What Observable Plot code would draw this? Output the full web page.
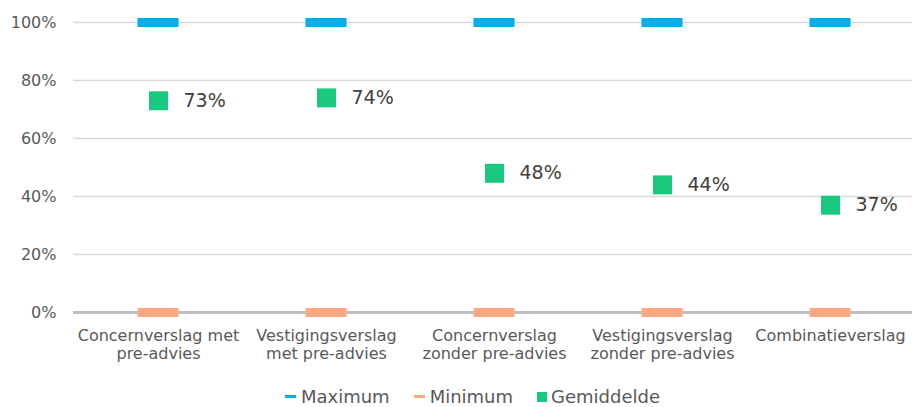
<!DOCTYPE html>
<html>
<head>
<meta charset="utf-8">
<script src="https://cdn.jsdelivr.net/npm/d3@7"></script>
<script src="https://cdn.jsdelivr.net/npm/@observablehq/plot@0.6"></script>
<style>
  html, body { margin: 0; padding: 0; background: #fff; }
  body { width: 912px; height: 407px; overflow: hidden; font-family: "DejaVu Sans", Verdana, sans-serif; }
  #chart svg { display: block; }
  #legend { display: flex; justify-content: center; align-items: center; height: 27px; font-size: 18px; color: #595959; margin-top: 3px; padding-left: 33px; }
  .item { display: flex; align-items: center; margin: 0 12px; }
  .dash { width: 11px; height: 3px; margin-right: 5px; }
  .sq { width: 10px; height: 10px; margin-right: 4px; }
</style>
</head>
<body>
<div id="chart"></div>
<div id="legend"></div>
<script>
const categories = ["Concernverslag met pre-advies", "Vestigingsverslag met pre-advies", "Concernverslag zonder pre-advies", "Vestigingsverslag zonder pre-advies", "Combinatieverslag"];
const tickLabels = ["Concernverslag met\npre-advies", "Vestigingsverslag\nmet pre-advies", "Concernverslag\nzonder pre-advies", "Vestigingsverslag\nzonder pre-advies", "Combinatieverslag"];
const maximum = [1, 1, 1, 1, 1];
const minimum = [0, 0, 0, 0, 0];
const gemiddelde = [0.73, 0.74, 0.48, 0.44, 0.37];
const seriesNames = ["Maximum", "Minimum", "Gemiddelde"];
const colors = ["#00B0E6", "#FFA882", "#19C97F"];
const yTicks = [0, 0.2, 0.4, 0.6, 0.8, 1];

const rows = categories.map((c, i) => ({cat: c, max: maximum[i], min: minimum[i], avg: gemiddelde[i]}));
const labelOf = new Map(categories.map((c, i) => [c, tickLabels[i]]));

const chart = Plot.plot({
  width: 912,
  height: 380,
  marginLeft: 73,
  marginRight: 0,
  marginTop: 22,
  marginBottom: 68,
  style: {fontFamily: '"DejaVu Sans", Verdana, sans-serif', background: "#fff"},
  x: {domain: categories, padding: 0, range: [72.6, 916.4], label: null},
  y: {domain: [0, 1], label: null},
  marks: [
    Plot.ruleY(yTicks.filter(d => d > 0), {stroke: "#d9d9d9", strokeWidth: 1.5}),
    Plot.ruleY([0], {stroke: "#bfbfbf", strokeWidth: 3}),
    Plot.axisY({ticks: yTicks, tickFormat: d3.format(".0%"), tickSize: 0, tickPadding: 17, fontSize: 16, fill: "#595959", label: null}),
    Plot.axisX({tickFormat: d => labelOf.get(d), tickSize: 0, tickPadding: 15, fontSize: 16, fill: "#595959", lineHeight: 1.15, label: null}),
    Plot.tickY(rows, {x: "cat", y: "max", stroke: colors[0], strokeWidth: 9, insetLeft: 63.5, insetRight: 63.5}),
    Plot.tickY(rows, {x: "cat", y: "min", stroke: colors[1], strokeWidth: 9, insetLeft: 63.5, insetRight: 63.5}),
    Plot.dot(rows, {x: "cat", y: "avg", symbol: "square", r: 10.7, fill: colors[2], stroke: null}),
    Plot.text(rows, {x: "cat", y: "avg", text: d => d3.format(".0%")(d.avg), dx: 25, textAnchor: "start", fontSize: 19, fill: "#404040"})
  ]
});
document.getElementById("chart").append(chart);

const legend = document.getElementById("legend");
seriesNames.forEach((name, i) => {
  const item = document.createElement("div");
  item.className = "item";
  const sw = document.createElement("span");
  sw.className = i < 2 ? "dash" : "sq";
  sw.style.background = colors[i];
  item.append(sw, document.createTextNode(name));
  legend.append(item);
});
</script>
</body>
</html>
